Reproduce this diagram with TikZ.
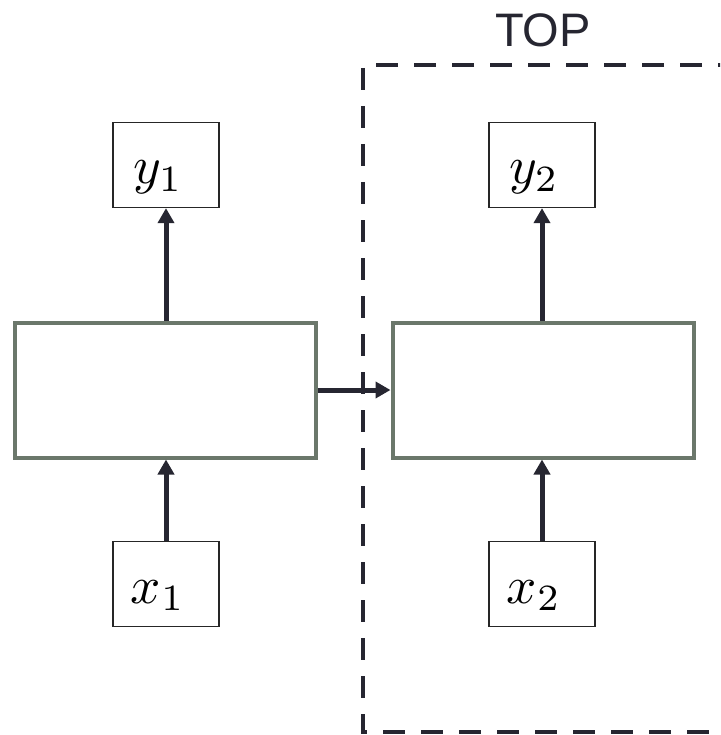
\documentclass[tikz,border=0pt]{standalone}
\usepackage{fontspec}
\setmainfont{Liberation Sans}
\usepackage{amsmath}
\usetikzlibrary{arrows.meta}
\definecolor{arrowc}{HTML}{262631}
\definecolor{cellc}{HTML}{6B776B}
\newcommand{\iolabel}[1]{\raisebox{-19pt}[0pt][0pt]{\makebox[0pt]{\hspace{-16pt}\scalebox{5.3}{$#1$}}}}
\tikzset{
  x=1pt, y=-1pt,
  cellbox/.style={draw=cellc, line width=4pt, fill=white, minimum width=301pt, minimum height=135pt, inner sep=0pt},
  iobox/.style={draw=black!85, line width=1.3pt, fill=white, minimum width=106pt, minimum height=85pt, inner sep=0pt},
  flow/.style={draw=arrowc, line width=5pt, -{Triangle[length=15pt,width=16pt]}},
  topframe/.style={draw=arrowc, line width=4pt, dash pattern=on 22pt off 16pt},
}
\begin{document}
\begin{tikzpicture}
\useasboundingbox (0,0) rectangle (720,735);
\begin{scope}
\clip (0,0) rectangle (720,735);
\draw[topframe] (740,65) -- (363,65) -- (363,732) -- (740,732);
\end{scope}
\node[font=\fontsize{47}{56}\selectfont, text=arrowc] (top) at (543,30) {TOP};
\node[cellbox] (h1) at (165,390) {};
\node[cellbox] (h2) at (543,390) {};
\node[iobox] (y1) at (166,165) {\iolabel{y_1}};
\node[iobox] (y2) at (542,165) {\iolabel{y_2}};
\node[iobox] (x1) at (166,584) {\iolabel{x_1}};
\node[iobox] (x2) at (542,584) {\iolabel{x_2}};
\draw[flow] (h1.north -| y1) -- (y1.south);
\draw[flow] (h2.north -| y2) -- (y2.south);
\draw[flow] (x1.north) -- (h1.south -| x1);
\draw[flow] (x2.north) -- (h2.south -| x2);
\draw[flow] (h1.east) -- (h2.west);
\end{tikzpicture}
\end{document}
